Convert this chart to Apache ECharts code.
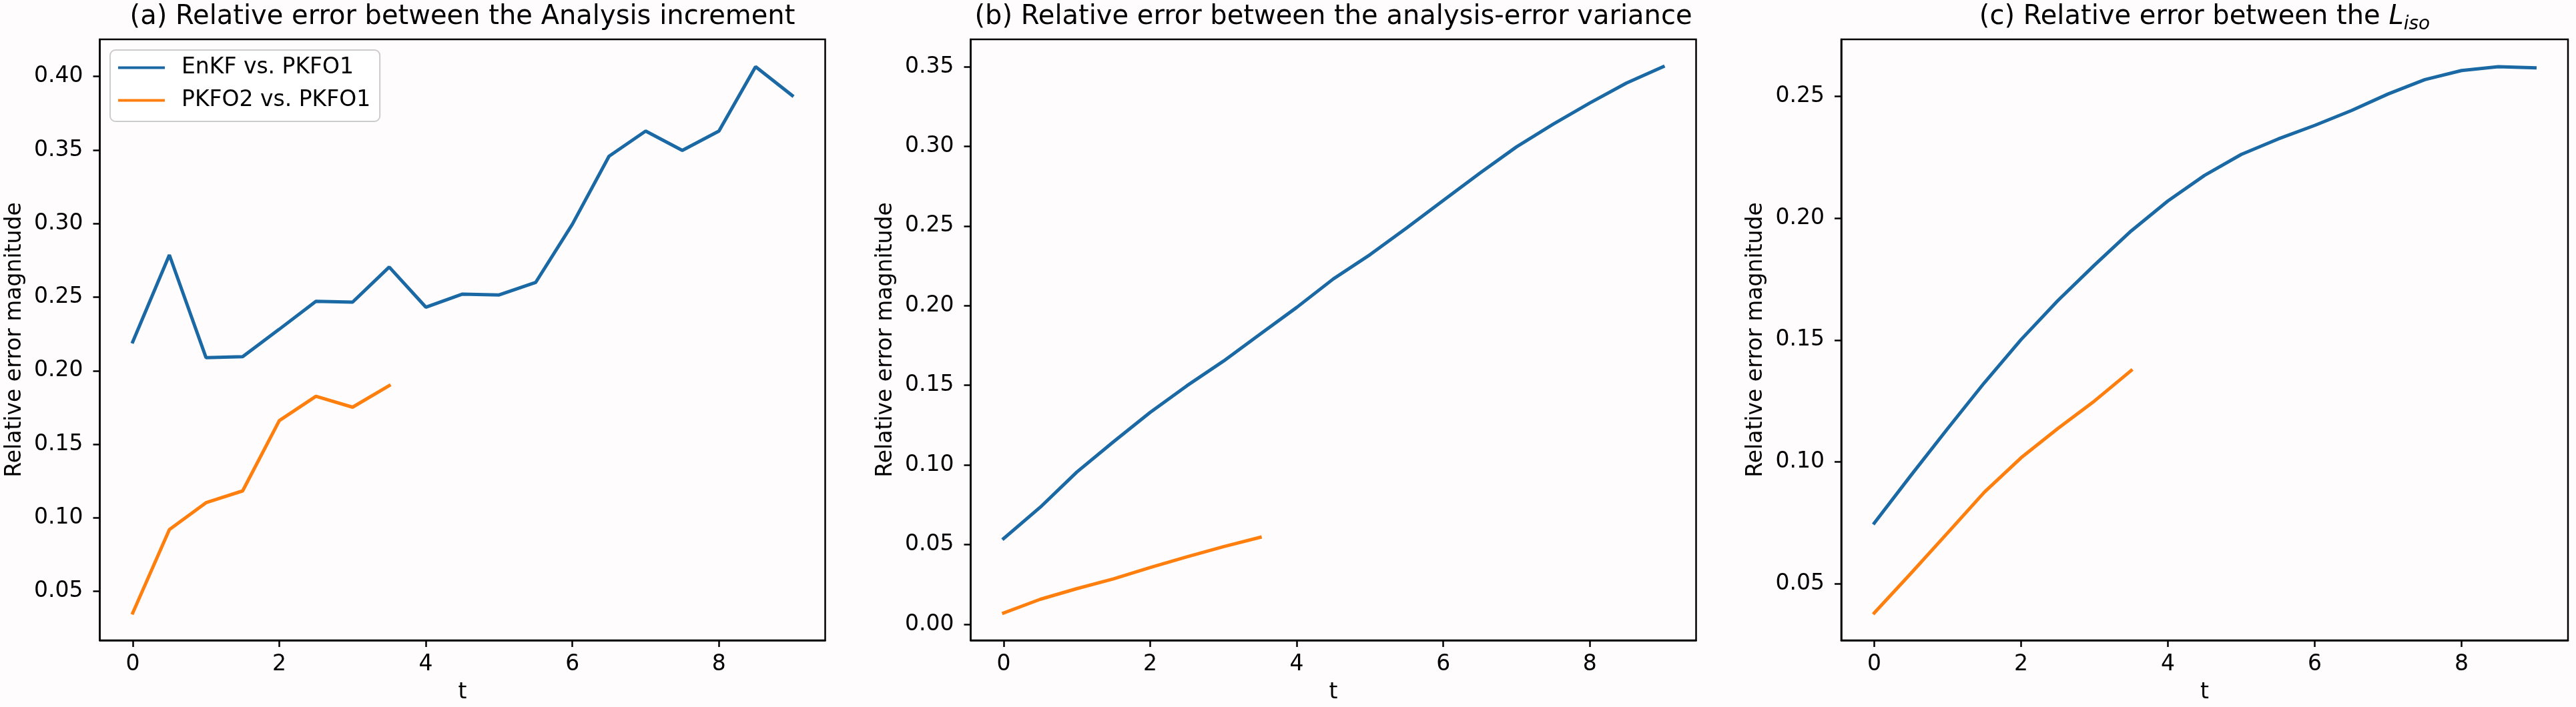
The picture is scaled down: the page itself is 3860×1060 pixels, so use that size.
<!DOCTYPE html>
<html>
<head>
<meta charset="utf-8">
<title>Relative error</title>
<script src="https://cdn.jsdelivr.net/npm/echarts@6/dist/echarts.min.js"></script>
<style>
html, body { margin: 0; padding: 0; background: #fefcfc; }
#main { width: 3860px; height: 1060px; }
</style>
</head>
<body>
<div id="main"></div>
<script>
// time steps
var t = [0, 0.5, 1, 1.5, 2, 2.5, 3, 3.5, 4, 4.5, 5, 5.5, 6, 6.5, 7, 7.5, 8, 8.5, 9];
var tShort = t.slice(0, 8);

// (a) analysis increment
var incEnkf = [0.2196, 0.2787, 0.2089, 0.2095, 0.2282, 0.2472, 0.2466, 0.2705, 0.2432, 0.2521,
               0.2515, 0.2601, 0.2996, 0.3458, 0.3629, 0.3498, 0.3629, 0.4067, 0.3871];
var incPkfo2 = [0.0353, 0.0920, 0.1103, 0.1183, 0.1661, 0.1826, 0.1752, 0.1899];

// (b) analysis-error variance
var varEnkf = [0.0538, 0.0735, 0.0956, 0.1146, 0.1330, 0.1497, 0.1652, 0.1821, 0.1989, 0.2168,
               0.2320, 0.2488, 0.2660, 0.2832, 0.2997, 0.3139, 0.3272, 0.3397, 0.3500];
var varPkfo2 = [0.0071, 0.0157, 0.0224, 0.0285, 0.0356, 0.0423, 0.0487, 0.0546];

// (c) L_iso
var lisoEnkf = [0.0749, 0.0945, 0.1137, 0.1325, 0.1502, 0.1662, 0.1808, 0.1948, 0.2071, 0.2176,
                0.2262, 0.2325, 0.2381, 0.2442, 0.2510, 0.2569, 0.2606, 0.2622, 0.2617];
var lisoPkfo2 = [0.0380, 0.0543, 0.0709, 0.0876, 0.1017, 0.1137, 0.1250, 0.1375];

// tick labels
var xTicks = [0, 2, 4, 6, 8];
var aTicks = [0.05, 0.10, 0.15, 0.20, 0.25, 0.30, 0.35, 0.40];
var bTicks = [0.00, 0.05, 0.10, 0.15, 0.20, 0.25, 0.30, 0.35];
var cTicks = [0.05, 0.10, 0.15, 0.20, 0.25];

var seriesNames = ['EnKF vs. PKFO1', 'PKFO2 vs. PKFO1'];
var titles = [
  '(a) Relative error between the Analysis increment',
  '(b) Relative error between the analysis-error variance',
  '(c) Relative error between the {L|L}{s|iso}'
];

var FONT = 'DejaVu Sans';
var BLUE = '#1a69a4';
var ORANGE = '#ff7f0e';

var grids = [
  { left: 149.5, top: 59, width: 1087, height: 901 },
  { left: 1454.5, top: 59, width: 1087, height: 901 },
  { left: 2759, top: 59, width: 1089, height: 901 }
];

function pairs(xs, ys) {
  return ys.map(function (v, i) { return [xs[i], v]; });
}

// matplotlib style 5% margins
function range(a, b) {
  var all = a.concat(b);
  var lo = Math.min.apply(null, all), hi = Math.max.apply(null, all);
  var pad = (hi - lo) * 0.05;
  return [lo - pad, hi + pad];
}

var panels = [
  { enkf: incEnkf, pkfo: incPkfo2, ticks: aTicks },
  { enkf: varEnkf, pkfo: varPkfo2, ticks: bTicks },
  { enkf: lisoEnkf, pkfo: lisoPkfo2, ticks: cTicks }
];

var lineAxis = { show: true, onZero: false, lineStyle: { color: '#000', width: 2.5 } };
var tickStyle = { color: '#000', width: 2.5 };
var labelStyle = { color: '#000', fontSize: 33, fontFamily: FONT };

var xAxes = [], yAxes = [], series = [], graphics = [];

panels.forEach(function (p, i) {
  var r = range(p.enkf, p.pkfo);
  xAxes.push({
    type: 'value', gridIndex: i, min: -0.45, max: 9.45,
    name: 't', nameLocation: 'middle', nameGap: 62,
    nameTextStyle: labelStyle,
    axisLine: lineAxis,
    axisTick: { show: true, length: 10, lineStyle: tickStyle, customValues: xTicks },
    axisLabel: Object.assign({ customValues: xTicks, margin: 20 }, labelStyle),
    splitLine: { show: false }
  });
  yAxes.push({
    type: 'value', gridIndex: i, min: r[0], max: r[1],
    name: 'Relative error magnitude', nameLocation: 'middle', nameGap: 111, nameRotate: 90,
    nameTextStyle: labelStyle,
    axisLine: lineAxis,
    axisTick: { show: true, length: 10, lineStyle: tickStyle, customValues: p.ticks },
    axisLabel: Object.assign({
      customValues: p.ticks, margin: 25,
      formatter: function (v) { return v.toFixed(2); }
    }, labelStyle),
    splitLine: { show: false }
  });
  series.push({
    name: seriesNames[0], type: 'line', xAxisIndex: i, yAxisIndex: i,
    data: pairs(t, p.enkf), showSymbol: false, symbol: 'none',
    color: BLUE, lineStyle: { color: BLUE, width: 5, cap: 'square' }
  });
  series.push({
    name: seriesNames[1], type: 'line', xAxisIndex: i, yAxisIndex: i,
    data: pairs(tShort, p.pkfo), showSymbol: false, symbol: 'none',
    color: ORANGE, lineStyle: { color: ORANGE, width: 5, cap: 'square' }
  });
  var g = grids[i];
  graphics.push({
    type: 'text', x: g.left + g.width / 2, y: 26,
    style: {
      text: titles[i], fill: '#000', fontSize: 40, fontFamily: FONT,
      align: 'center', verticalAlign: 'middle', lineHeight: 50,
      rich: {
        L: { fontStyle: 'italic', fontSize: 40, fontFamily: FONT, fill: '#000' },
        s: { fontStyle: 'italic', fontSize: 28, fontFamily: FONT, fill: '#000',
             lineHeight: 28, verticalAlign: 'bottom' }
      }
    }
  });
});

var chart = echarts.init(document.getElementById('main'));
chart.setOption({
  backgroundColor: '#fefcfc',
  animation: false,
  grid: grids.map(function (g) {
    return Object.assign({ show: true, borderColor: '#000', borderWidth: 2.5, containLabel: false }, g);
  }),
  xAxis: xAxes,
  yAxis: yAxes,
  series: series,
  legend: {
    orient: 'vertical', left: 165, top: 75,
    data: seriesNames, selectedMode: false,
    icon: 'path://M0,0L70,0L70,4L0,4Z',
    itemWidth: 70, itemHeight: 4.5, itemGap: 16,
    padding: [10, 14, 15, 12],
    backgroundColor: 'rgba(255,255,255,0.8)',
    borderColor: '#cccccc', borderWidth: 2, borderRadius: 8,
    textStyle: { color: '#000', fontSize: 33, fontFamily: FONT, lineHeight: 33, padding: [0, 0, 0, 20] }
  },
  graphic: graphics
});
</script>
</body>
</html>
